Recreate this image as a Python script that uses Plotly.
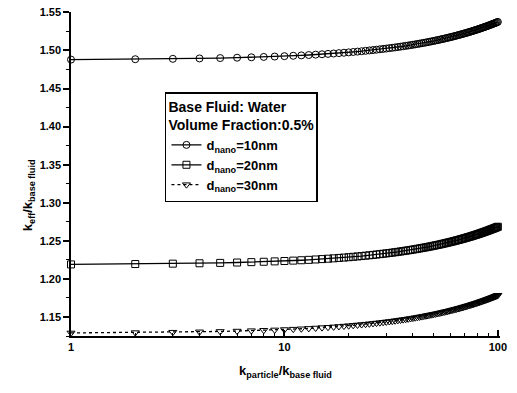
import plotly.graph_objects as go

k_ratio = list(range(1, 101))

keff_10nm = [
    1.4880, 1.4885, 1.4890, 1.4895, 1.4900, 1.4905, 1.4910, 1.4915, 1.4920, 1.4925,
    1.4930, 1.4935, 1.4940, 1.4945, 1.4950, 1.4955, 1.4960, 1.4965, 1.4970, 1.4975,
    1.4980, 1.4985, 1.4990, 1.4995, 1.5000, 1.5005, 1.5010, 1.5015, 1.5020, 1.5025,
    1.5030, 1.5035, 1.5040, 1.5045, 1.5050, 1.5055, 1.5060, 1.5065, 1.5070, 1.5075,
    1.5080, 1.5085, 1.5090, 1.5095, 1.5100, 1.5105, 1.5110, 1.5115, 1.5120, 1.5125,
    1.5130, 1.5135, 1.5140, 1.5145, 1.5150, 1.5155, 1.5160, 1.5165, 1.5170, 1.5175,
    1.5180, 1.5185, 1.5190, 1.5195, 1.5200, 1.5205, 1.5210, 1.5215, 1.5220, 1.5225,
    1.5230, 1.5235, 1.5240, 1.5245, 1.5250, 1.5255, 1.5260, 1.5265, 1.5270, 1.5275,
    1.5280, 1.5285, 1.5290, 1.5295, 1.5300, 1.5305, 1.5310, 1.5315, 1.5320, 1.5325,
    1.5330, 1.5335, 1.5340, 1.5345, 1.5350, 1.5355, 1.5360, 1.5365, 1.5370, 1.5375,
]

keff_20nm = [
    1.2190, 1.2195, 1.2200, 1.2205, 1.2210, 1.2215, 1.2220, 1.2225, 1.2230, 1.2235,
    1.2240, 1.2245, 1.2250, 1.2255, 1.2260, 1.2265, 1.2270, 1.2275, 1.2280, 1.2285,
    1.2290, 1.2295, 1.2300, 1.2305, 1.2310, 1.2315, 1.2320, 1.2325, 1.2330, 1.2335,
    1.2340, 1.2345, 1.2350, 1.2355, 1.2360, 1.2365, 1.2370, 1.2375, 1.2380, 1.2385,
    1.2390, 1.2395, 1.2400, 1.2405, 1.2410, 1.2415, 1.2420, 1.2425, 1.2430, 1.2435,
    1.2440, 1.2445, 1.2450, 1.2455, 1.2460, 1.2465, 1.2470, 1.2475, 1.2480, 1.2485,
    1.2490, 1.2495, 1.2500, 1.2505, 1.2510, 1.2515, 1.2520, 1.2525, 1.2530, 1.2535,
    1.2540, 1.2545, 1.2550, 1.2555, 1.2560, 1.2565, 1.2570, 1.2575, 1.2580, 1.2585,
    1.2590, 1.2595, 1.2600, 1.2605, 1.2610, 1.2615, 1.2620, 1.2625, 1.2630, 1.2635,
    1.2640, 1.2645, 1.2650, 1.2655, 1.2660, 1.2665, 1.2670, 1.2675, 1.2680, 1.2685,
]

keff_30nm = [
    1.1290, 1.1295, 1.1300, 1.1305, 1.1310, 1.1315, 1.1320, 1.1325, 1.1330, 1.1335,
    1.1340, 1.1345, 1.1350, 1.1355, 1.1360, 1.1365, 1.1370, 1.1375, 1.1380, 1.1385,
    1.1390, 1.1395, 1.1400, 1.1405, 1.1410, 1.1415, 1.1420, 1.1425, 1.1430, 1.1435,
    1.1440, 1.1445, 1.1450, 1.1455, 1.1460, 1.1465, 1.1470, 1.1475, 1.1480, 1.1485,
    1.1490, 1.1495, 1.1500, 1.1505, 1.1510, 1.1515, 1.1520, 1.1525, 1.1530, 1.1535,
    1.1540, 1.1545, 1.1550, 1.1555, 1.1560, 1.1565, 1.1570, 1.1575, 1.1580, 1.1585,
    1.1590, 1.1595, 1.1600, 1.1605, 1.1610, 1.1615, 1.1620, 1.1625, 1.1630, 1.1635,
    1.1640, 1.1645, 1.1650, 1.1655, 1.1660, 1.1665, 1.1670, 1.1675, 1.1680, 1.1685,
    1.1690, 1.1695, 1.1700, 1.1705, 1.1710, 1.1715, 1.1720, 1.1725, 1.1730, 1.1735,
    1.1740, 1.1745, 1.1750, 1.1755, 1.1760, 1.1765, 1.1770, 1.1775, 1.1780, 1.1785,
]

series_names = ["d<sub>nano</sub>=10nm", "d<sub>nano</sub>=20nm", "d<sub>nano</sub>=30nm"]
x_ticks = [1, 10, 100]
x_tick_text = ["1", "10", "100"]
x_minor_ticks = [2, 3, 4, 5, 6, 7, 8, 9, 20, 30, 40, 50, 60, 70, 80, 90]
y_ticks = [1.15, 1.20, 1.25, 1.30, 1.35, 1.40, 1.45, 1.50, 1.55]
y_tick_text = ["1.15", "1.20", "1.25", "1.30", "1.35", "1.40", "1.45", "1.50", "1.55"]
x_title = "<b>k<sub>particle</sub>/k<sub>base fluid</sub></b>"
y_title = "<b>k<sub>eff</sub>/k<sub>base fluid</sub></b>"
legend_title = "Base Fluid: Water<br>Volume Fraction:0.5%"

FONT = "Liberation Sans, Arial, sans-serif"

fig = go.Figure()
styles = [
    (keff_10nm, "circle-open", "solid"),
    (keff_20nm, "square-open", "solid"),
    (keff_30nm, "triangle-down-open", "dot"),
]
for (vals, sym, dash), name in zip(styles, series_names):
    fig.add_trace(go.Scatter(
        x=k_ratio, y=vals, name=name, mode="lines+markers",
        line=dict(color="black", width=1.3, dash=dash),
        marker=dict(symbol=sym, size=7, color="black", line=dict(width=1, color="black")),
        cliponaxis=False,
    ))

fig.add_annotation(
    text=y_title, textangle=-90, xref="paper", yref="paper",
    x=-0.1, y=0.435, xanchor="center", yanchor="middle", showarrow=False,
    font=dict(size=13, family=FONT, color="black"),
)

fig.update_layout(
    width=517, height=393,
    margin=dict(l=71, r=17, t=12, b=57),
    paper_bgcolor="white", plot_bgcolor="white",
    font=dict(family=FONT, color="black", size=12),
    legend=dict(
        title=dict(text=legend_title, font=dict(size=14, family=FONT, weight="bold")),
        x=0.219, y=0.753, xanchor="left", yanchor="top",
        bordercolor="black", borderwidth=1.5, bgcolor="white",
        font=dict(size=13, family=FONT, weight="bold"), tracegroupgap=0, itemwidth=30,
    ),
    xaxis=dict(
        type="log", range=[0, 2.01], automargin=False,
        tickvals=x_ticks, ticktext=x_tick_text,
        ticks="inside", ticklen=6, tickwidth=1.5, tickcolor="black",
        minor=dict(ticks="inside", ticklen=3, tickwidth=1, tickcolor="black",
                   tickmode="array", tickvals=x_minor_ticks, showgrid=False),
        showline=True, linecolor="black", linewidth=1.5,
        showgrid=False, zeroline=False, ticklabeloverflow="allow",
        tickfont=dict(size=11, family=FONT, weight="bold"),
        title=dict(text=x_title, font=dict(size=13), standoff=14),
    ),
    yaxis=dict(
        range=[1.125, 1.5505], automargin=False,
        tickvals=y_ticks, ticktext=y_tick_text,
        ticks="outside", ticklen=6, tickwidth=1.5, tickcolor="black",
        minor=dict(ticks="outside", ticklen=3, tickwidth=1, tickcolor="black", dtick=0.025, showgrid=False),
        showline=True, linecolor="black", linewidth=1.5,
        showgrid=False, zeroline=False, ticklabeloverflow="allow",
        tickfont=dict(size=11, family=FONT, weight="bold"),
    ),
)

fig.write_html("out.html", config={"displayModeBar": False},
               post_script="document.body.style.margin='0px';")
